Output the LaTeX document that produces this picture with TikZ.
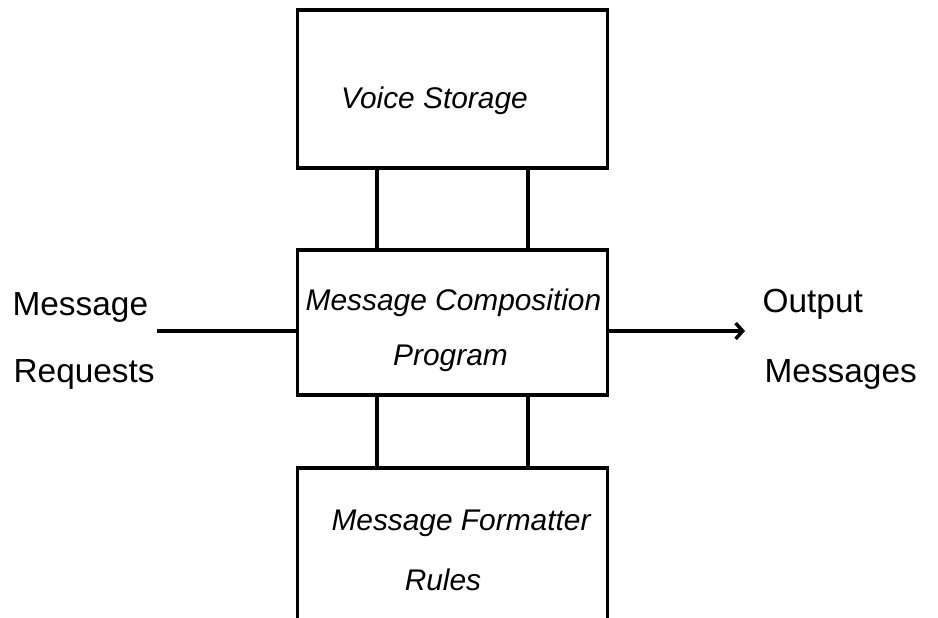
\documentclass[tikz,border=0pt]{standalone}
\usepackage{fontspec}
\setmainfont{Liberation Sans}
\usetikzlibrary{arrows.meta}
\begin{document}
\begin{tikzpicture}[
        line width=2pt,
        box/.style={draw, minimum width=6.2cm},
        inlabel/.style={anchor=base, font=\fontsize{17}{20}\selectfont\itshape},
        outlabel/.style={anchor=base west, font=\fontsize{19}{23}\selectfont}]
        \clip (0,0) rectangle (18.76,12.34);
        % the three blocks
        \node[box, minimum height=3.16cm] (voice) at (9.05,10.56) {};
        \node[inlabel] (voicetxt) at (8.69,10.18) {Voice Storage};
        \node[box, minimum height=2.9cm] (comp) at (9.05,5.89) {};
        \node[inlabel] (comptxt) at (9.07,6.14) {Message Composition};
        \node[inlabel] (progtxt) at (9.01,5.04) {Program};
        \node[box, minimum height=3.6cm] (rules) at (9.05,1.18) {};
        \node[inlabel] (rulestxt) at (9.22,1.74) {Message Formatter};
        \node[inlabel] (rulestxt2) at (8.86,0.54) {Rules};
        % input and output
        \node[outlabel] (req) at (0.1,6.04) {Message};
        \node[outlabel] (req2) at (0.12,4.70) {Requests};
        \node[outlabel] (out) at (15.1,6.10) {Output};
        \node[outlabel] (out2) at (15.14,4.70) {Messages};
        \coordinate (reqend) at (3.14,5.72);
        \coordinate (outend) at (14.9,5.72);
        \draw (reqend) -- (reqend -| comp.west);
        \draw[-{Straight Barb[length=4pt,width=9pt]}] (comp.east |- outend) -- (outend);
        % links between the blocks
        \foreach \dx in {-1.51,1.51} {
            \draw ([xshift=\dx cm]voice.south) -- ([xshift=\dx cm]comp.north);
            \draw ([xshift=\dx cm]comp.south) -- ([xshift=\dx cm]rules.north);
        }
\end{tikzpicture}
\end{document}
